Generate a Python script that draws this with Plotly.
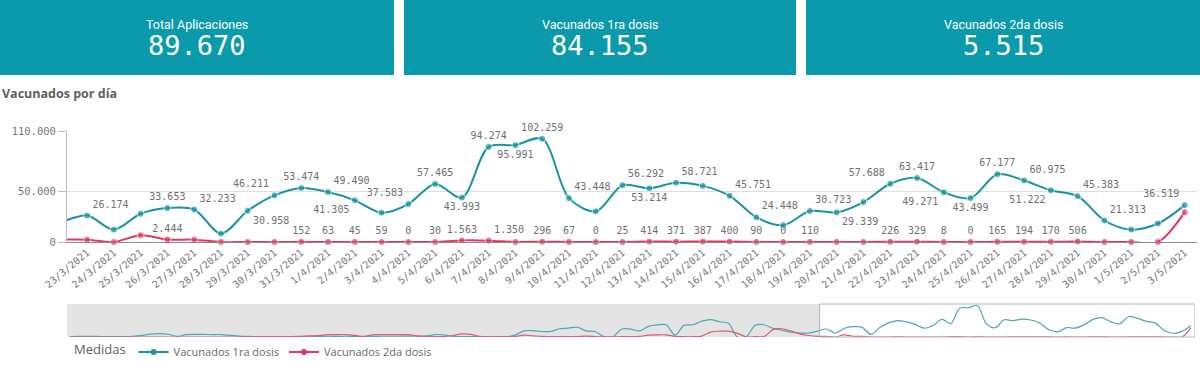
import pandas as pd
import plotly.graph_objects as go

# ---------------- data ----------------
dates = pd.date_range("2020-12-28", "2021-05-03", freq="D")

first_dose = [
    1500, 2000, 2500, 2000, 1000, 1500, 1500, 2500, 5000, 9500,
    11000, 9000, 2000, 7500, 8500, 8500, 8000, 8000, 5000, 3000,
    2000, 1500, 1500, 1000, 1500, 1000, 1500, 2500, 2000, 2500,
    2000, 2500, 1500, 1000, 2000, 2500, 2500, 2500, 3000, 2500,
    3000, 8000, 7000, 2000, 1500, 1000, 1000, 500, 500, 1000,
    6000, 20000, 21000, 18000, 18000, 27000, 29000, 32000, 20000, 18000,
    1000, 1000, 26000, 26000, 20000, 35000, 40000, 40000, 6000, 38000,
    40000, 52000, 57000, 50000, 45000, 500, 1000, 38000, 40000, 28000,
    22000, 16000, 13000, 13000,
    19000, 26174, 12300, 28000, 33653, 32233, 8300, 30958, 46211, 53474,
    49490, 41305, 29000, 37583, 57465, 43993, 94274, 95991, 102259, 43448,
    30300, 56292, 53214, 58721, 55600, 45751, 24448, 16600, 30723, 29339,
    39600, 57688, 63417, 49271, 43499, 67177, 60975, 51222, 45383, 21313,
    12300, 18300, 36519,
]

second_dose = [
    0, 0, 0, 0, 0, 0, 0, 0, 0, 0,
    0, 0, 0, 0, 0, 0, 0, 0, 0, 0,
    500, 1000, 1500, 1500, 1000, 1500, 2500, 3500, 4500, 7500,
    8000, 8000, 5000, 2000, 7000, 8000, 8000, 8000, 7500, 4000,
    2500, 1500, 1500, 5000, 10000, 8500, 2000, 500, 500, 500,
    1500, 6000, 4000, 2000, 1000, 1000, 1000, 1500, 3000, 1500,
    500, 500, 1000, 1000, 2000, 6000, 7000, 7000, 2000, 1000,
    1000, 3000, 16000, 19000, 19000, 12000, 500, 1000, 1500, 24000,
    27000, 20000, 10000, 5000,
    2300, 2300, 0, 6700, 2444, 2300, 0, 0, 0, 152,
    63, 45, 59, 0, 30, 1563, 1350, 80, 296, 67,
    0, 25, 414, 371, 387, 400, 90, 0, 110, 20,
    40, 226, 329, 8, 0, 165, 194, 170, 506, 0,
    0, 0, 29600,
]

series_names = ["Vacunados 1ra dosis", "Vacunados 2da dosis"]
kpi_titles = ["Total Aplicaciones", "Vacunados 1ra dosis", "Vacunados 2da dosis"]
kpi_values = ["89.670", "84.155", "5.515"]
chart_title = "Vacunados por día"
legend_title = "Medidas"

y_tickvals = [0, 50000, 110000]
y_ticktext = ["0", "50.000", "110.000"]

# ---------------- view / style ----------------
overview_start = "2020-12-27 15:00"
view_start = "2021-03-22 06:00"
view_end = "2021-05-03 11:00"
window_first_day = pd.Timestamp("2021-03-22")

# label placement for 22/3 .. 3/5 (None = hidden)
first_label_pos = [
    None,
    "top right", None, None, "top center", "top right", None, "bottom right",
    "top left", "top center", "top right", "bottom left", None, "top left",
    "top center", "bottom center", "top center", "bottom center", "top center",
    "top right", None, "top right", "bottom center", "top right", None,
    "top right", "top right", None, "top right", "bottom right", None,
    "top left", "top center", "bottom left", "bottom center", "top center",
    "top right", "bottom left", "top right", "top right", None, None, "top left",
]
second_label_pos = [
    None,
    None, None, None, "top center", None, None, None,
    None, "top center", "top center", "top center", "top center", "top center",
    "top center", "top center", "top right", None, "top center", "top center",
    "top center", "top center", "top center", "top center", "top center",
    "top center", "top center", "top center", "top center", None, None,
    "top center", "top center", "top center", "top center", "top center",
    "top center", "top center", "top center", None, None, None, None,
]

TEAL = "#1a93a2"
RED = "#e2385f"
KPI_BG = "#0a9aab"
LABEL_GRAY = "#707070"
MONO = "DejaVu Sans Mono"

W, H = 1200, 378


def px_x(x):
    return x / W


def px_y(y):
    return 1 - y / H


def fmt(v):
    return f"{v:,}".replace(",", ".")


i0 = list(dates).index(window_first_day)
win_dates = dates[i0:]
win_first = first_dose[i0:]
win_second = second_dose[i0:]
vs = pd.Timestamp(view_start)
marker_sizes = [0 if d < vs else 7 for d in win_dates]

fig = go.Figure()

for vals, pos, color, name in [
    (win_first, first_label_pos, TEAL, series_names[0]),
    (win_second, second_label_pos, RED, series_names[1]),
]:
    fig.add_trace(go.Scatter(
        x=win_dates, y=vals, name=name, showlegend=False,
        mode="lines+markers+text",
        line=dict(color=color, width=2, shape="spline", smoothing=0.9),
        marker=dict(color=color, size=marker_sizes),
        text=[fmt(v) if p else "" for v, p in zip(vals, pos)],
        textposition=[p if p else "top center" for p in pos],
        textfont=dict(family=MONO, size=10, color=LABEL_GRAY),
        cliponaxis=False,
        xaxis="x", yaxis="y",
        hoverinfo="skip",
    ))

for vals, color in [(first_dose, "#4fa7b3"), (second_dose, "#de5a78")]:
    fig.add_trace(go.Scatter(
        x=dates, y=vals, mode="lines", showlegend=False,
        line=dict(color=color, width=1.2, shape="spline", smoothing=0.9),
        xaxis="x2", yaxis="y2", hoverinfo="skip",
    ))

# legend entries
for color, name in [(TEAL, series_names[0]), (RED, series_names[1])]:
    fig.add_trace(go.Scatter(
        x=[None], y=[None], name=name, mode="lines+markers",
        line=dict(color=color, width=2), marker=dict(color=color, size=6),
        xaxis="x", yaxis="y", showlegend=True,
    ))

shapes = []
kpi_boxes = [(0, 394), (404, 796), (806, 1200)]
annotations = []
for (x0, x1), t, v in zip(kpi_boxes, kpi_titles, kpi_values):
    shapes.append(dict(type="rect", xref="paper", yref="paper",
                       x0=px_x(x0), x1=px_x(x1), y0=px_y(75), y1=1,
                       fillcolor=KPI_BG, line=dict(width=0), layer="below"))
    cx = px_x((x0 + x1) / 2)
    annotations.append(dict(text=t, xref="paper", yref="paper", x=cx, y=px_y(24),
                            showarrow=False, xanchor="center", yanchor="middle",
                            font=dict(family="Roboto", size=12.5, color="white")))
    annotations.append(dict(text=v, xref="paper", yref="paper", x=cx, y=px_y(46),
                            showarrow=False, xanchor="center", yanchor="middle",
                            font=dict(family=MONO, size=27, color="white")))

annotations.append(dict(text="<b>" + chart_title + "</b>", xref="paper", yref="paper",
                        x=0, y=px_y(93), showarrow=False, xanchor="left", yanchor="middle",
                        font=dict(family="Open Sans", size=12.5, color="#5f5f5f")))

shapes.append(dict(type="rect", xref="x2", yref="y2 domain",
                   x0=overview_start, x1=view_start, y0=0, y1=1,
                   fillcolor="#e4e4e4", line=dict(width=0), layer="below"))
shapes.append(dict(type="rect", xref="x2", yref="y2 domain",
                   x0=view_start, x1=view_end, y0=0, y1=1,
                   fillcolor="rgba(0,0,0,0)", line=dict(color="#b8b8b8", width=1),
                   layer="above"))

fig.update_layout(
    width=W, height=H,
    margin=dict(l=0, r=0, t=0, b=0, pad=0, autoexpand=False),
    paper_bgcolor="white", plot_bgcolor="white",
    font=dict(family="Open Sans", color="#666"),
    shapes=shapes, annotations=annotations,
    xaxis=dict(
        domain=[px_x(67), px_x(1197)], anchor="y", automargin=False,
        type="date", range=[view_start, view_end],
        tick0="2021-03-22", dtick=86400000, tickformat="%-d/%-m/%Y",
        tickangle=-40, tickfont=dict(family=MONO, size=10, color="#777"),
        showgrid=False, zeroline=False, showline=True, linecolor="#8a8a8a",
        linewidth=1, ticks="",
    ),
    yaxis=dict(
        domain=[px_y(242), px_y(131)], anchor="x", automargin=False,
        range=[0, 110000], tickvals=y_tickvals, ticktext=y_ticktext,
        tickfont=dict(family=MONO, size=10.5, color="#777"),
        showgrid=True, gridcolor="#dedede", gridwidth=1,
        zeroline=False, showline=True, linecolor="#bdbdbd",
        ticks="outside", ticklen=8, tickcolor="#bdbdbd",
    ),
    xaxis2=dict(
        domain=[px_x(67), px_x(1195)], anchor="y2", automargin=False,
        type="date", range=[overview_start, view_end],
        showticklabels=False, showgrid=False, zeroline=False, showline=False, ticks="",
    ),
    yaxis2=dict(
        domain=[px_y(337), px_y(304)], anchor="x2", automargin=False,
        range=[0, 108000], showticklabels=False, showgrid=False,
        zeroline=False, showline=False, ticks="",
    ),
    showlegend=True,
    legend=dict(
        orientation="h", x=px_x(72), y=px_y(352), xanchor="left", yanchor="middle",
        title=dict(text=legend_title, font=dict(family="Open Sans", size=13, color="#5f5f5f")),
        font=dict(family="Open Sans", size=11, color="#6a6a6a"),
        itemwidth=30, bgcolor="rgba(0,0,0,0)",
        tracegroupgap=0,
    ),
)

fig.write_html(
    "out.html",
    config={"displayModeBar": False},
    post_script="document.body.style.margin='0';document.body.style.overflow='hidden';",
)
